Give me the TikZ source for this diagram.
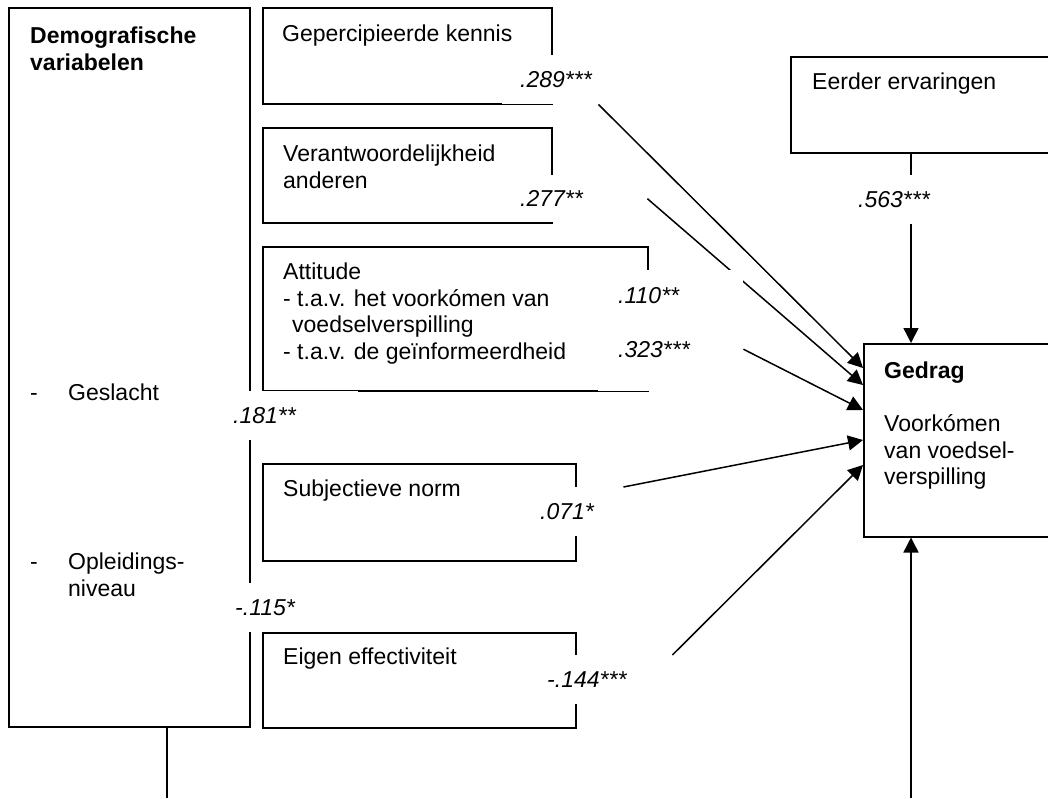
\documentclass[tikz,border=0pt]{standalone}
\usepackage{fontspec}
\setmainfont{Liberation Sans}
\usetikzlibrary{arrows.meta,backgrounds}
\newcommand\grootfont{\fontsize{23}{26.5}\selectfont}

\begin{document}
\begin{tikzpicture}[x=1pt,y=-1pt]
\tikzstyle{every node}+=[inner sep=0pt, font=\grootfont]
\tikzstyle{box}=[draw, line width=1.5pt, anchor=north west]
\tikzstyle{txt}=[anchor=north west, align=left]
\tikzstyle{coef}=[fill=white, anchor=north west, align=left, font=\grootfont\itshape]
\tikzstyle{pijl}=[line width=1.5pt, -{Triangle[length=15pt,width=15pt]}]
\clip (0,0) rectangle (1048,798);
% kaders
\node[box, minimum width=241pt, minimum height=719pt] (demo) at (8,7) {};
\node[box, minimum width=289pt, minimum height=96pt] (kennis) at (262,7) {};
\node[box, minimum width=289pt, minimum height=95pt] (verant) at (262,127) {};
\node[box, minimum width=385pt, minimum height=144pt] (attitude) at (262,246) {};
\node[box, minimum width=313pt, minimum height=97pt] (norm) at (262,463) {};
\node[box, minimum width=313pt, minimum height=95pt] (effect) at (262,632) {};
\node[box, minimum width=320pt, minimum height=96pt] (eerder) at (790,56) {};
\node[box, minimum width=247pt, minimum height=193pt] (gedrag) at (863,343) {};
% teksten
\node[txt, font=\grootfont\bfseries] (demo-t) at (30,27) {Demografische\\variabelen};
\node[txt] (geslacht) at (30,384) {\makebox[38pt][l]{-}Geslacht};
\node[txt] (opleiding) at (30,553) {\makebox[38pt][l]{-}Opleidings-\\\hspace*{38pt}niveau};
\node[txt] (kennis-t) at (282,25) {Gepercipieerde kennis};
\node[txt] (verant-t) at (283,145) {Verantwoordelijkheid\\anderen};
\node[txt] (attitude-t) at (283,263) {Attitude\\- t.a.v. het voork\'omen van\\\hspace*{9pt}voedselverspilling\\- t.a.v. de ge\"informeerdheid};
\node[txt] (norm-t) at (283,480) {Subjectieve norm};
\node[txt] (effect-t) at (283,648) {Eigen effectiviteit};
\node[txt] (eerder-t) at (812,73) {Eerder ervaringen};
\node[txt] (gedrag-t) at (884,362) {\textbf{Gedrag}\\[26.5pt]Voork\'omen\\van voedsel-\\verspilling};
% coefficienten
\node[coef, inner xsep=18pt, text width=60pt, minimum height=49pt] (b289) at (502,55) {.289***};
\node[coef, inner xsep=18pt, text width=109pt, minimum height=47pt] (b277) at (502,175) {.277**};
\node[coef, inner xsep=20pt, text width=105pt, minimum height=121pt, text depth=70.5pt] (batt) at (598,270) {.110**\\[28pt].323***};
\node[coef, inner xsep=11pt, text width=114pt, minimum height=49pt] (b181) at (222,391) {.181**};
\node[coef, inner xsep=9pt, text width=139pt, minimum height=49pt] (b115) at (226,583) {-.115*};
\node[coef, inner xsep=18pt, text width=65pt, minimum height=49pt] (b071) at (522,487) {.071*};
\node[coef, inner xsep=17pt, text width=108pt, minimum height=49pt] (b144) at (530,655) {-.144***};
\node[coef, inner xsep=8pt, text width=69pt, minimum height=49pt] (b563) at (850,175) {.563***};
\coordinate (demo-uit) at (167,798);
\coordinate (onder) at (911,798);
% pijlen
\begin{scope}[on background layer]
\draw[pijl] (b289.south east) -- ([yshift=-25pt]gedrag.north west);
\draw[pijl] (b277.east) -- ([yshift=-42pt]gedrag.north west);
\draw[pijl] ([yshift=-18.5pt]batt.east) -- ([yshift=-67pt]gedrag.north west);
\draw[pijl] (b071.north east) -- ([yshift=-97pt]gedrag.north west);
\draw[pijl] (b144.north east) -- ([yshift=-122pt]gedrag.north west);
\draw[pijl] ([xshift=121pt]eerder.south west) -- ([xshift=48pt]gedrag.north west);
\draw[pijl] (onder) -- ([xshift=48pt]gedrag.south west);
\draw[line width=1.5pt] ([xshift=159pt]demo.south west) -- (demo-uit);
\end{scope}
\end{tikzpicture}
\end{document}
